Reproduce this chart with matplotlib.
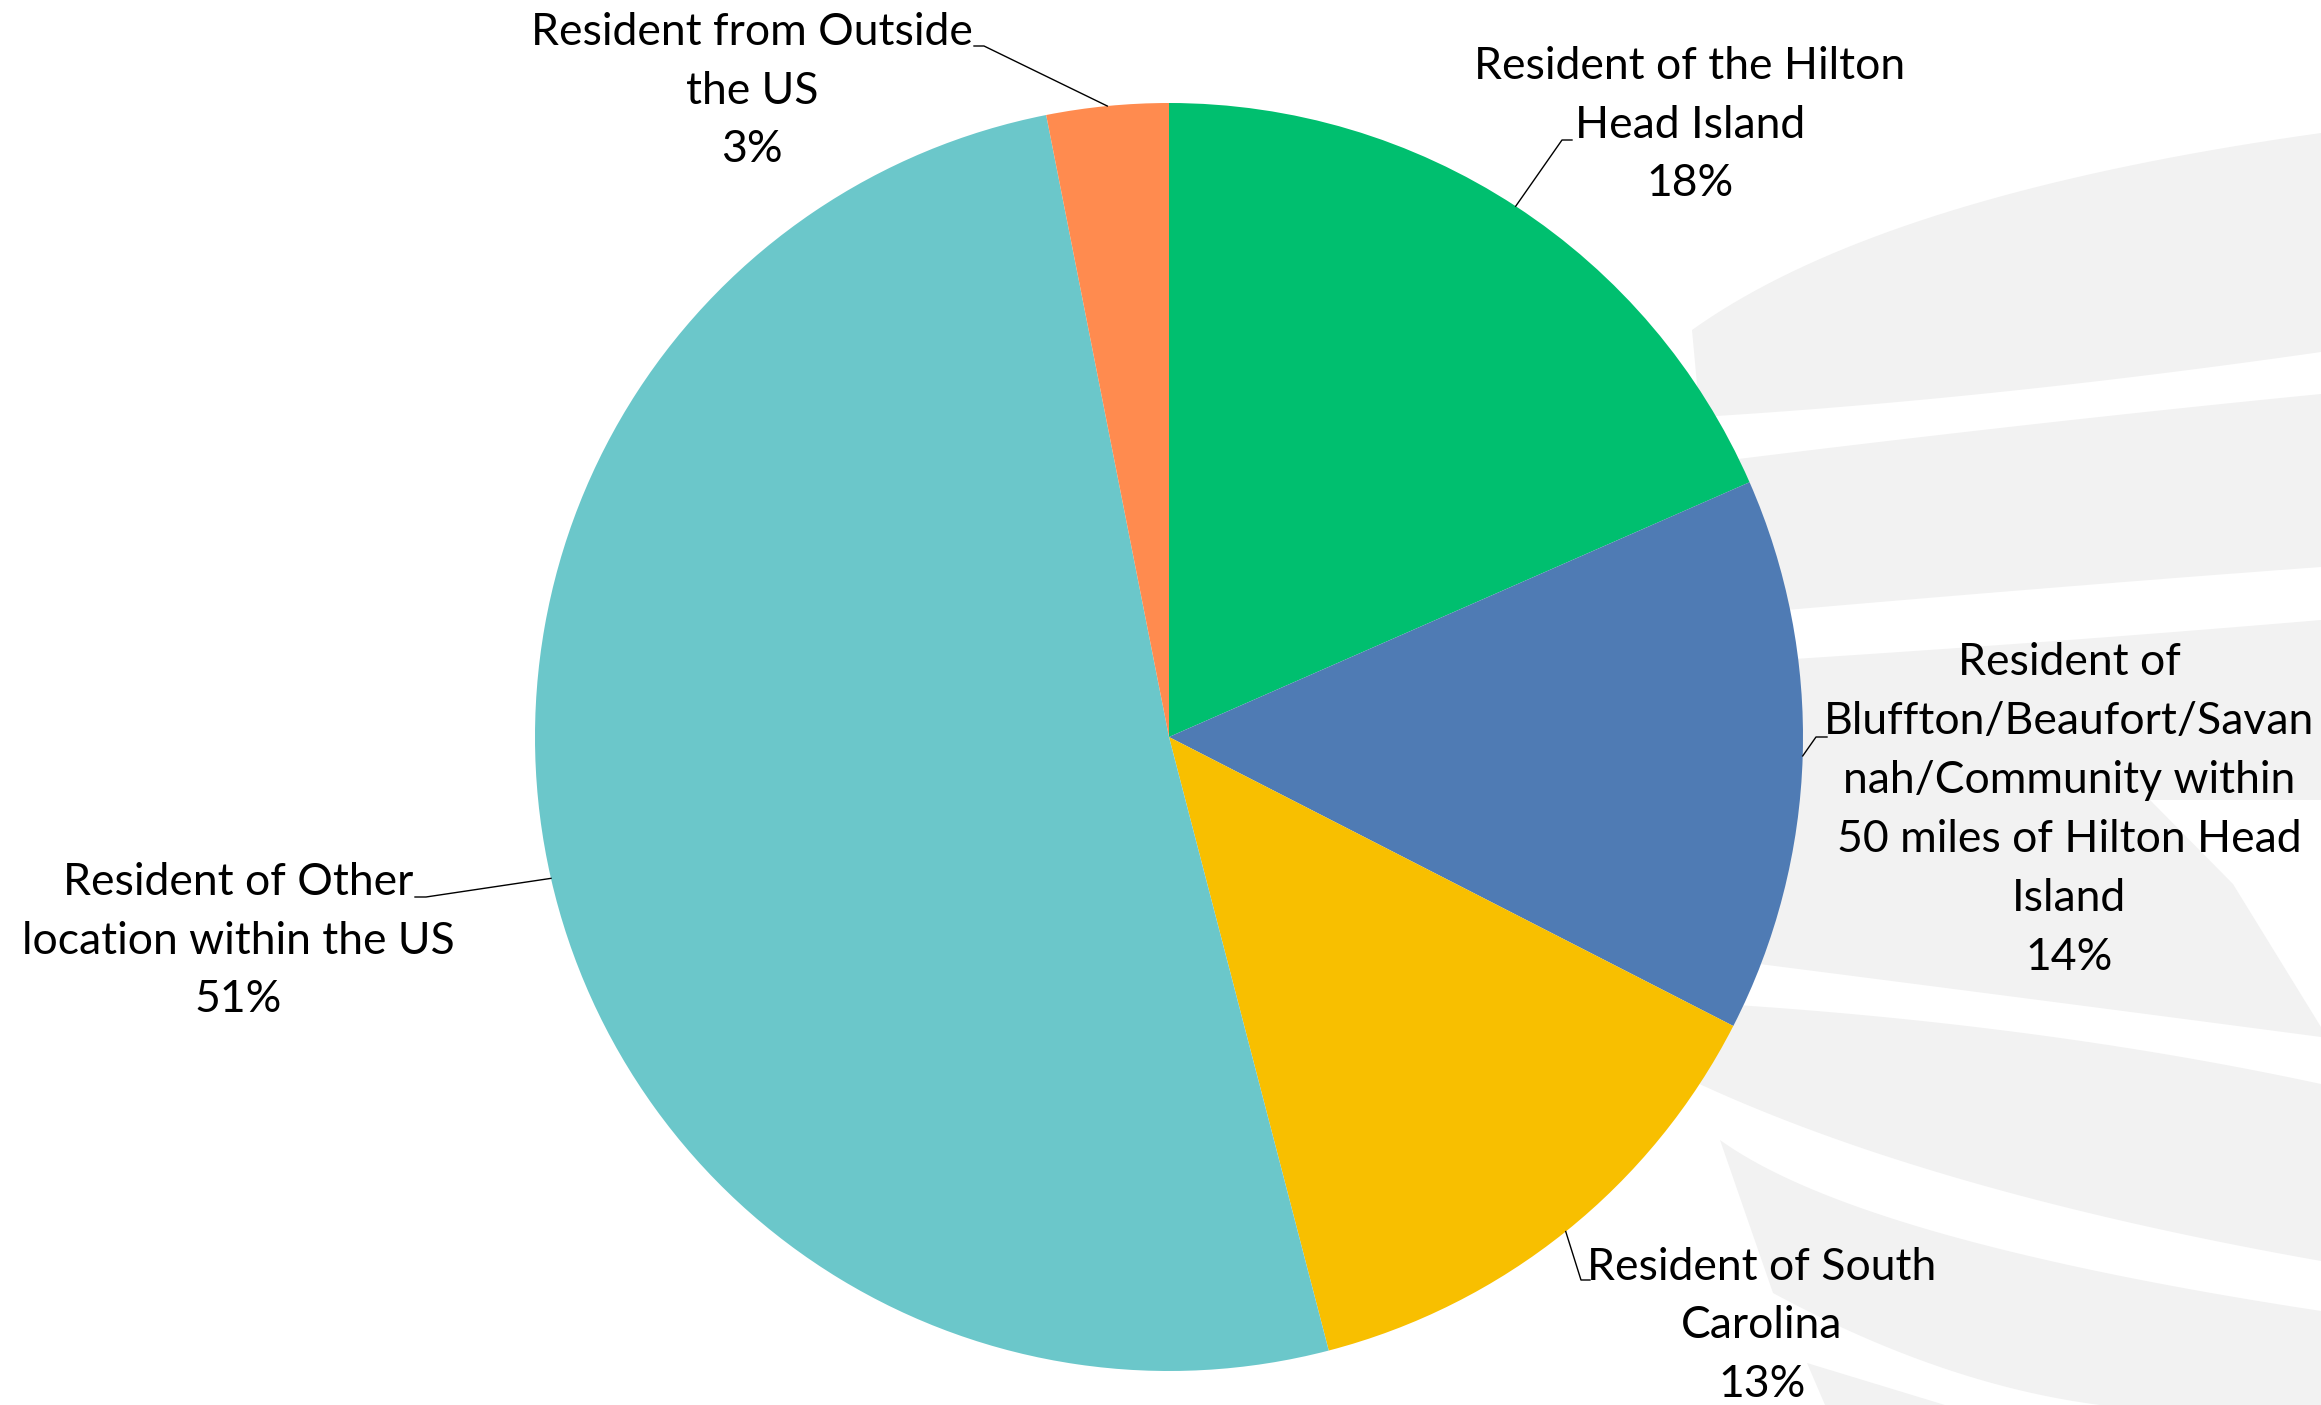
import numpy as np
import matplotlib.pyplot as plt
from matplotlib.patches import Polygon

categories = [
    'Resident of the Hilton\nHead Island',
    'Resident of\nBluffton/Beaufort/Savan\nnah/Community within\n50 miles of Hilton Head\nIsland',
    'Resident of South\nCarolina',
    'Resident of Other\nlocation within the US',
    'Resident from Outside\nthe US',
]
shares = [18.4, 14.1, 13.4, 50.9, 3.1]
colors = ['#00BF6F', '#4F7BB4', '#F8BF00', '#6BC7CA', '#FF8B4F']

W, H = 2321, 1405

# label layout in pixels from the top-left: text centre, elbow of leader, leader end
label_pos = [(1690, 125), (2069, 810), (1762, 1326), (238, 941), (752, 91)]
elbows = [(1562, 140, 1572), (1816, 737, 1827), (1581, 1280, 1590), (426, 897, 415), (984, 46, 974)]

# light grey watermark bands: top edge (left->right) and bottom edge (right->left),
# each as three points the curve passes through
bands = [
    ([(1692, 330), (1944, 213), (2321, 133)], [(2321, 352), (2000, 392), (1700, 417)]),
    ([(1650, 470), (2000, 428), (2321, 394)], [(2321, 567), (2000, 592), (1650, 622)]),
    ([(1650, 668), (2000, 645), (2321, 620)], [(2321, 1037), (2000, 995), (1650, 950)]),
    ([(1650, 1000), (2000, 1030), (2321, 1084)], [(2321, 1261), (1940, 1173), (1650, 1060)]),
    ([(1720, 1140), (1940, 1233), (2321, 1311)], [(2100, 1405), (1940, 1367), (1773, 1293)]),
]
small_band = [(1807, 1363), (1945, 1405), (1825, 1405)]
white_cut = [(2150, 800), (2233, 884), (2321, 1027), (2321, 800)]


def curve(p0, pm, p2, n=40):
    p0, pm, p2 = np.array(p0, float), np.array(pm, float), np.array(p2, float)
    c = 2 * pm - 0.5 * (p0 + p2)
    t = np.linspace(0, 1, n)[:, None]
    return (1 - t) ** 2 * p0 + 2 * (1 - t) * t * c + t ** 2 * p2


fig = plt.figure(figsize=(W / 100, H / 100), dpi=100)
ax = fig.add_axes([0, 0, 1, 1])

cx, cy, r = 1169, 737, 634
wedges, _ = ax.pie(shares, colors=colors, startangle=90, counterclock=False,
                   center=(cx, H - cy), radius=r, wedgeprops=dict(linewidth=0))

for top, bot in bands:
    pts = np.vstack([curve(*top), curve(*bot)])
    if bot[0][1] == H:
        pts = np.vstack([curve(*top), [(W, H)], curve(*bot)])
    pts[:, 1] = H - pts[:, 1]
    ax.add_patch(Polygon(pts, closed=True, color='#F2F2F2', lw=0, zorder=0))
ax.add_patch(Polygon([(x, H - y) for x, y in small_band], closed=True, color='#F2F2F2', lw=0, zorder=0))
ax.add_patch(Polygon([(x, H - y) for x, y in white_cut], closed=True, color='white', lw=0, zorder=0.5))

total = sum(shares)
for w, cat, v, (tx, ty), (ex, ey, lx) in zip(wedges, categories, shares, label_pos, elbows):
    mid = np.deg2rad((w.theta1 + w.theta2) / 2)
    px, py = cx + r * np.cos(mid), (H - cy) + r * np.sin(mid)
    ax.plot([px, ex, lx], [py, H - ey, H - ey], color='black', lw=1.0, zorder=3)
    ax.text(tx, H - ty, f'{cat}\n{round(v / total * 100):.0f}%', ha='center', va='center',
            fontsize=32, family='Lato', linespacing=1.54, color='black')

ax.set_xlim(0, W)
ax.set_ylim(0, H)
ax.set_aspect('equal')
ax.axis('off')

fig.savefig('out.png', dpi=100, facecolor='white')
